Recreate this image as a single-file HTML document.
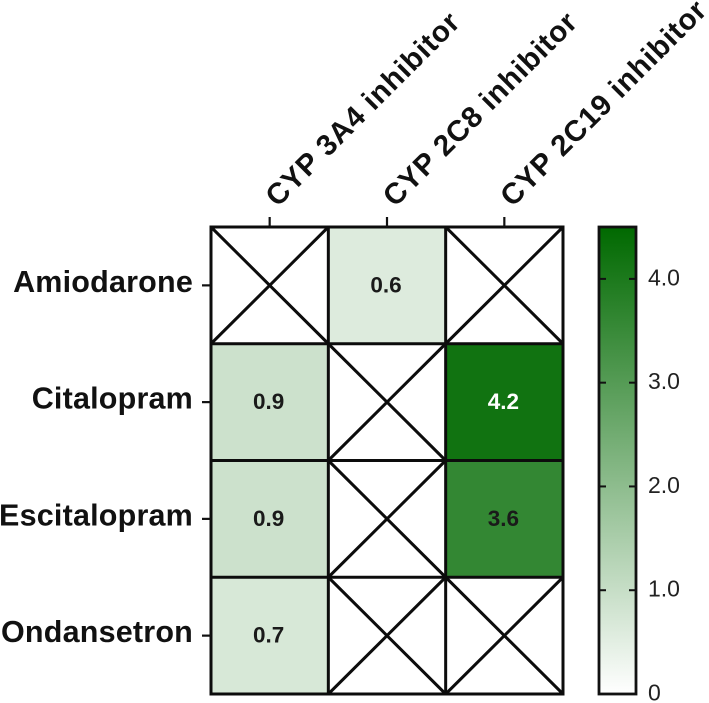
<!DOCTYPE html>
<html><head><meta charset="utf-8"><title>CYP inhibitor heatmap</title>
<style>html,body{margin:0;padding:0;background:#fff;width:709px;height:703px;overflow:hidden}svg{display:block}text{font-family:"Liberation Sans",sans-serif}</style>
</head><body>
<svg id="chart" width="709" height="703" viewBox="0 0 709 703" xmlns="http://www.w3.org/2000/svg">
<defs><linearGradient id="cbgrad" x1="0" y1="1" x2="0" y2="0"><stop offset="0" stop-color="#ffffff"/><stop offset="1" stop-color="#006900"/></linearGradient></defs>
</svg>
<script>
const drugs = ['Amiodarone', 'Citalopram', 'Escitalopram', 'Ondansetron'];
const enzymes = ['CYP 3A4 inhibitor', 'CYP 2C8 inhibitor', 'CYP 2C19 inhibitor'];
const matrix = [
  [null, 0.6, null],
  [0.9, null, 4.2],
  [0.9, null, 3.6],
  [0.7, null, null]
];
const scaleTicks = [0, 1, 2, 3, 4];
const scaleTickLabels = ['0', '1.0', '2.0', '3.0', '4.0'];
const scaleMax = 4.5;

const svg = document.getElementById('chart');
const NS = 'http://www.w3.org/2000/svg';
const gridL = 211, gridR = 563, gridT = 227, gridB = 694;
const barL = 599, barR = 636, barT = 227, barB = 694;
const colX = i => gridL + (gridR - gridL) * i / enzymes.length;
const rowY = i => gridT + (gridB - gridT) * i / drugs.length;
const scaleY = v => barB - (barB - barT) * v / scaleMax;
function color(v) {
  const t = Math.min(v / scaleMax, 1);
  const r = Math.round(255 * (1 - t)), g = Math.round(255 - 150 * t), b = Math.round(255 * (1 - t));
  return `rgb(${r},${g},${b})`;
}
function mk(tag, attrs, text) {
  const e = document.createElementNS(NS, tag);
  for (const k in attrs) e.setAttribute(k, attrs[k]);
  if (text !== undefined) e.textContent = text;
  svg.appendChild(e);
  return e;
}
const stroke = { stroke: '#0c0c0c', 'stroke-width': 3 };

matrix.forEach((row, r) => row.forEach((v, c) => {
  const x0 = colX(c), x1 = colX(c + 1), y0 = rowY(r), y1 = rowY(r + 1);
  const cell = mk('rect', { x: x0, y: y0, width: x1 - x0, height: y1 - y0, fill: v === null ? '#fff' : color(v) });
  
  
  if (v === null) {
    const a = mk('line', { x1: x0, y1: y0, x2: x1, y2: y1, ...stroke });
    
    
    const b = mk('line', { x1: x1, y1: y0, x2: x0, y2: y1, ...stroke });
    
    
  }
}));
for (let c = 0; c <= enzymes.length; c++) {
  const l = mk('line', { x1: colX(c), y1: gridT, x2: colX(c), y2: gridB, ...stroke });
  
  
}
for (let r = 0; r <= drugs.length; r++) {
  const l = mk('line', { x1: gridL - 1.5, y1: rowY(r), x2: gridR + 1.5, y2: rowY(r), ...stroke });
  
  
}
matrix.forEach((row, r) => row.forEach((v, c) => {
  if (v === null) return;
  const t = mk('text', { x: (colX(c) + colX(c + 1)) / 2 - 1, y: (rowY(r) + rowY(r + 1)) / 2 + 7, 'text-anchor': 'middle', 'font-size': 22.5, 'font-weight': 'bold', fill: v > 4 ? '#fff' : '#1a1a1a' }, v.toFixed(1));
  
  
}));
drugs.forEach((d, r) => {
  const y = (rowY(r) + rowY(r + 1)) / 2;
  const tick = mk('line', { x1: gridL - 9, y1: y, x2: gridL, y2: y, stroke: '#111', 'stroke-width': 2.2 });
  
  
  const t = mk('text', { x: 193, y: y + 6.5, 'text-anchor': 'end', 'font-size': 30.5, 'font-weight': 'bold', 'letter-spacing': 0.2, fill: '#111' }, d);
  
  
});
enzymes.forEach((e, c) => {
  const x = (colX(c) + colX(c + 1)) / 2;
  const tick = mk('line', { x1: x, y1: gridT - 10, x2: x, y2: gridT, stroke: '#111', 'stroke-width': 2.2 });
  
  
  const t = mk('text', { x: 0, y: 0, transform: `translate(${x + 8},208) rotate(-45)`, 'font-size': 29.5, 'font-weight': 'bold', 'letter-spacing': 0.7, fill: '#111' }, e);
  
  
});
const bar = mk('rect', { x: barL, y: barT, width: barR - barL, height: barB - barT, fill: 'url(#cbgrad)', stroke: '#111', 'stroke-width': 2.8 });


scaleTicks.forEach((v, i) => {
  const y = scaleY(v);
  if (v > 0) {
    const a = mk('line', { x1: barL, y1: y, x2: barL + 7, y2: y, stroke: '#111', 'stroke-width': 2 });
    
    
    const b = mk('line', { x1: barR - 7, y1: y, x2: barR, y2: y, stroke: '#111', 'stroke-width': 2 });
    
    
  }
  const t = mk('text', { x: 648, y: y + 6.5, 'font-size': 23, fill: '#222' }, scaleTickLabels[i]);
  
  
});
</script>
</body></html>
